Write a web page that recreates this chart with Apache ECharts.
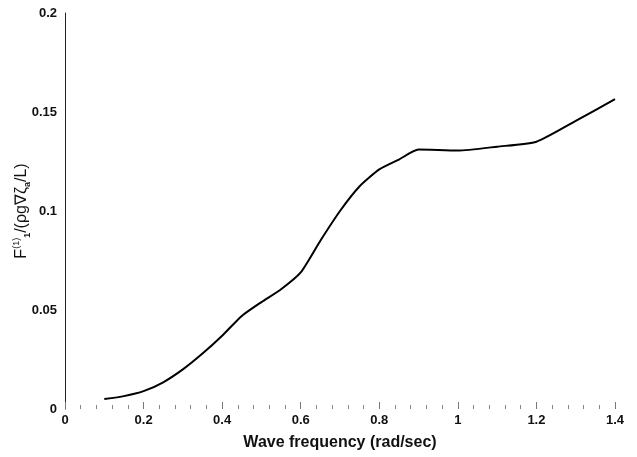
<!DOCTYPE html>
<html>
<head>
<meta charset="utf-8">
<script src="https://cdn.jsdelivr.net/npm/echarts@6/dist/echarts.min.js"></script>
<style>
html, body { margin: 0; padding: 0; background: #fff; }
#chart { width: 637px; height: 457px; }
</style>
</head>
<body>
<div id="chart"></div>
<script>
// wave frequency (rad/sec)
var freq = [0.1, 0.15, 0.2, 0.25, 0.3, 0.35, 0.4, 0.45, 0.5, 0.55, 0.6, 0.65, 0.7, 0.75, 0.8, 0.85, 0.9, 1.0, 1.1, 1.2, 1.3, 1.4];
// non-dimensional first order force
var force = [0.005, 0.0065, 0.009, 0.0135, 0.02, 0.028, 0.037, 0.047, 0.054, 0.0605, 0.069, 0.085, 0.1, 0.1125, 0.121, 0.126, 0.131, 0.1305, 0.1325, 0.135, 0.1455, 0.1565];

var xTicks = [0, 1.4, 0.2];
var yTicks = [0, 0.2, 0.05];

var points = freq.map(function (f, i) { return [f, force[i]]; });

var myChart = echarts.init(document.getElementById('chart'));

var font = '"Liberation Sans", Arial, sans-serif';

var option = {
    backgroundColor: '#fff',
    animation: false,
    grid: {
        left: 65,
        right: 22,
        top: 13,
        bottom: 48,
        outerBoundsMode: 'none'
    },
    xAxis: {
        type: 'value',
        min: xTicks[0],
        max: xTicks[1],
        interval: xTicks[2],
        name: 'Wave frequency (rad/sec)',
        nameLocation: 'middle',
        nameGap: 26,
        nameTextStyle: {
            fontFamily: font,
            fontWeight: 'bold',
            fontSize: 16,
            color: '#111'
        },
        axisLine: { show: false },
        axisTick: {
            show: true,
            inside: true,
            length: 7,
            lineStyle: { color: '#777', width: 1 }
        },
        minorTick: {
            show: true,
            splitNumber: 5,
            length: 4,
            lineStyle: { color: '#888', width: 1 }
        },
        splitLine: { show: false },
        axisLabel: {
            margin: 5,
            fontFamily: font,
            fontWeight: 'bold',
            fontSize: 13,
            color: '#111',
            formatter: function (v) { return String(+v.toFixed(2)); }
        }
    },
    yAxis: {
        type: 'value',
        min: yTicks[0],
        max: yTicks[1],
        interval: yTicks[2],
        name: '{n|F}{sup|(1)}{sub|1}{n|/(ρg∇ζ}{sub|a}{n|/L)}',
        nameLocation: 'middle',
        nameGap: 33,
        nameMoveOverlap: false,
        nameTextStyle: {
            fontFamily: font,
            fontSize: 16,
            color: '#111',
            rich: {
                n: { fontFamily: font, fontSize: 16, color: '#111', lineHeight: 20 },
                sup: { fontFamily: font, fontSize: 9, color: '#111', verticalAlign: 'top', lineHeight: 20 },
                sub: { fontFamily: font, fontSize: 9, fontWeight: 'bold', color: '#111', verticalAlign: 'bottom', lineHeight: 20 }
            }
        },
        axisLine: {
            show: true,
            lineStyle: { color: '#222', width: 1 }
        },
        axisTick: { show: false },
        splitLine: { show: false },
        axisLabel: {
            margin: 8,
            fontFamily: font,
            fontWeight: 'bold',
            fontSize: 13,
            color: '#111',
            formatter: function (v) { return String(+v.toFixed(2)); }
        }
    },
    series: [
        {
            type: 'line',
            data: points,
            showSymbol: false,
            smooth: 0.2,
            lineStyle: { color: '#000', width: 2 }
        }
    ]
};
myChart.setOption(option);
</script>
</body>
</html>
